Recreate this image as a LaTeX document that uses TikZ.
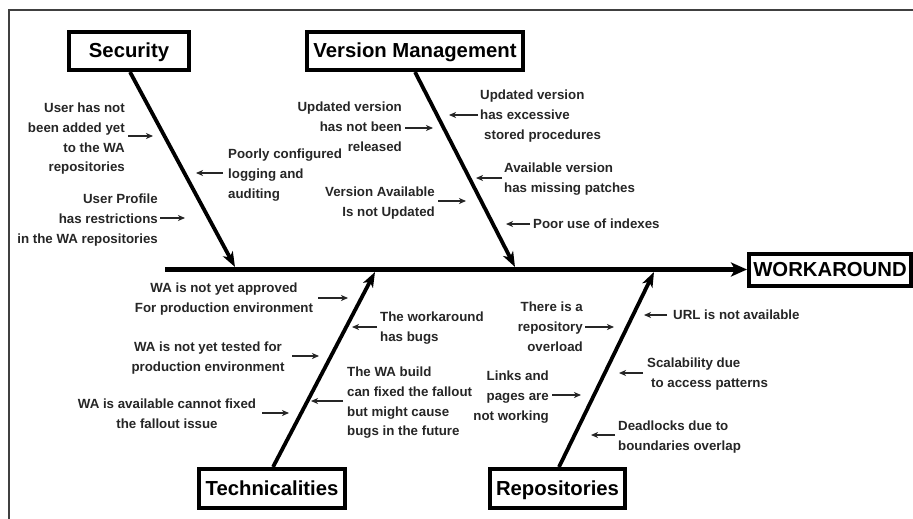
\documentclass[tikz,border=0pt]{standalone}
\usepackage{fontspec}
\setmainfont{Liberation Sans}
\usetikzlibrary{arrows.meta}
\begin{document}
\begin{tikzpicture}[x=1pt,y=-1pt,
  catbox/.style={draw, line width=4pt, inner sep=0pt,
    text height=14.5pt, text depth=1.5pt,
    font=\bfseries\fontsize{20.3}{24}\selectfont},
  cause/.style={inner sep=0pt, text=black!85,
    font=\bfseries\fontsize{13.3}{19.6}\selectfont},
  pointer/.style={draw=black!85, line width=1.4pt, -{Stealth[length=7pt,width=6pt,inset=2pt]}},
  bone/.style={draw, line width=3.8pt, -{Stealth[length=15pt,width=11pt,inset=4pt]}},
  spine/.style={draw, line width=5pt, -{Stealth[length=16pt,width=14pt,inset=4pt]}},
  frame/.style={draw=black!75, line width=2pt}]
\useasboundingbox (0,0) rectangle (913,519);
\clip (0,0) rectangle (913,519);
\fill[white] (0,0) rectangle (913,519);

% outer frame (only top and left edges fall inside the page)
\draw[frame] (9,560) -- (9,10) -- (960,10);

% category boxes and effect box
\node[catbox, minimum width=120pt, minimum height=38pt] (sec) at (129,51) {Security};
\node[catbox, minimum width=216pt, minimum height=38pt] (ver) at (415,51) {Version Management};
\node[catbox, minimum width=146pt, minimum height=39pt] (tec) at (272,488.5) {Technicalities};
\node[catbox, minimum width=135pt, minimum height=39pt] (rep) at (557.5,488.5) {Repositories};
\node[catbox, minimum width=162pt, minimum height=32pt] (wk) at (830,269.5) {WORKAROUND};

% spine
\coordinate (tail) at (165,269.5);
\draw[spine] (tail) -- (wk.west);

% bones
\coordinate (secTip) at (235,267);
\coordinate (verTip) at (515,267);
\coordinate (tecTip) at (375,272);
\coordinate (repTip) at (654,272);
\draw[bone] (sec.south -| 130,0) -- (secTip);
\draw[bone] (ver.south) -- (verTip);
\draw[bone] (tec.north -| 273,0) -- (tecTip);
\draw[bone] (rep.north -| 559,0) -- (repTip);

% ---- Security causes
\node[cause, anchor=north east, align=right] (s1) at (125,103)
  {User has not\\been added yet\\to the WA\\repositories};
\node[cause, anchor=north east, align=right] (s2) at (158,194)
  {User Profile\\has restrictions\\in the WA repositories};
\node[cause, anchor=north west, align=left] (s3) at (228,149)
  {Poorly configured\\logging and\\auditing};
\coordinate (s1a) at (128,136); \coordinate (s1b) at (153,136);
\coordinate (s2a) at (160,218); \coordinate (s2b) at (185,218);
\coordinate (s3a) at (223,173); \coordinate (s3b) at (196,173);
\draw[pointer] (s1a) -- (s1b);
\draw[pointer] (s2a) -- (s2b);
\draw[pointer] (s3a) -- (s3b);

% ---- Version Management causes
\node[cause, anchor=north east, align=right] (v1) at (402,102)
  {Updated version\\has not been\\released};
\node[cause, anchor=north west, align=left] (v2) at (480,90)
  {Updated version\\has excessive\\\hspace*{4pt}stored procedures};
\node[cause, anchor=north west, align=left] (v3) at (504,163)
  {Available version\\has missing patches};
\node[cause, anchor=north east, align=right] (v4) at (435,187)
  {Version Available\\Is not Updated};
\node[cause, anchor=west] (v5) at (533,224) {Poor use of indexes};
\coordinate (v1a) at (405,128); \coordinate (v1b) at (433,128);
\coordinate (v2a) at (478,115); \coordinate (v2b) at (449,115);
\coordinate (v3a) at (502,178); \coordinate (v3b) at (476,178);
\coordinate (v4a) at (438,201); \coordinate (v4b) at (466,201);
\coordinate (v5a) at (530,224); \coordinate (v5b) at (506,224);
\draw[pointer] (v1a) -- (v1b);
\draw[pointer] (v2a) -- (v2b);
\draw[pointer] (v3a) -- (v3b);
\draw[pointer] (v4a) -- (v4b);
\draw[pointer] (v5a) -- (v5b);

% ---- Technicalities causes
\node[cause, anchor=north, align=center] (t1) at (224,283)
  {WA is not yet approved\\For production environment};
\node[cause, anchor=north, align=center] (t2) at (208,342)
  {WA is not yet tested for\\production environment};
\node[cause, anchor=north, align=center] (t3) at (167,399)
  {WA is available cannot fixed\\the fallout issue};
\node[cause, anchor=north west, align=left] (t4) at (380,312)
  {The workaround\\has bugs};
\node[cause, anchor=north west, align=left] (t5) at (347,367)
  {The WA build\\can fixed the fallout\\but might cause\\bugs in the future};
\coordinate (t1a) at (318,298); \coordinate (t1b) at (348,298);
\coordinate (t2a) at (292,356); \coordinate (t2b) at (319,356);
\coordinate (t3a) at (262,413); \coordinate (t3b) at (289,413);
\coordinate (t4a) at (377,327); \coordinate (t4b) at (352,327);
\coordinate (t5a) at (343,401); \coordinate (t5b) at (311,401);
\draw[pointer] (t1a) -- (t1b);
\draw[pointer] (t2a) -- (t2b);
\draw[pointer] (t3a) -- (t3b);
\draw[pointer] (t4a) -- (t4b);
\draw[pointer] (t5a) -- (t5b);

% ---- Repositories causes
\node[cause, anchor=north east, align=right] (r1) at (583,302)
  {There is a\\repository\\overload};
\node[cause, anchor=north east, align=right] (r2) at (549,371)
  {Links and\\pages are\\not working};
\node[cause, anchor=west] (r3) at (673,315) {URL is not available};
\node[cause, anchor=north west, align=left] (r4) at (647,358)
  {Scalability due\\\hspace*{4pt}to access patterns};
\node[cause, anchor=north west, align=left] (r5) at (618,421)
  {Deadlocks due to\\boundaries overlap};
\coordinate (r1a) at (585,327); \coordinate (r1b) at (614,327);
\coordinate (r2a) at (552,395); \coordinate (r2b) at (581,395);
\coordinate (r3a) at (667,315); \coordinate (r3b) at (644,315);
\coordinate (r4a) at (643,373); \coordinate (r4b) at (619,373);
\coordinate (r5a) at (615,435); \coordinate (r5b) at (591,435);
\draw[pointer] (r1a) -- (r1b);
\draw[pointer] (r2a) -- (r2b);
\draw[pointer] (r3a) -- (r3b);
\draw[pointer] (r4a) -- (r4b);
\draw[pointer] (r5a) -- (r5b);
\end{tikzpicture}
\end{document}
